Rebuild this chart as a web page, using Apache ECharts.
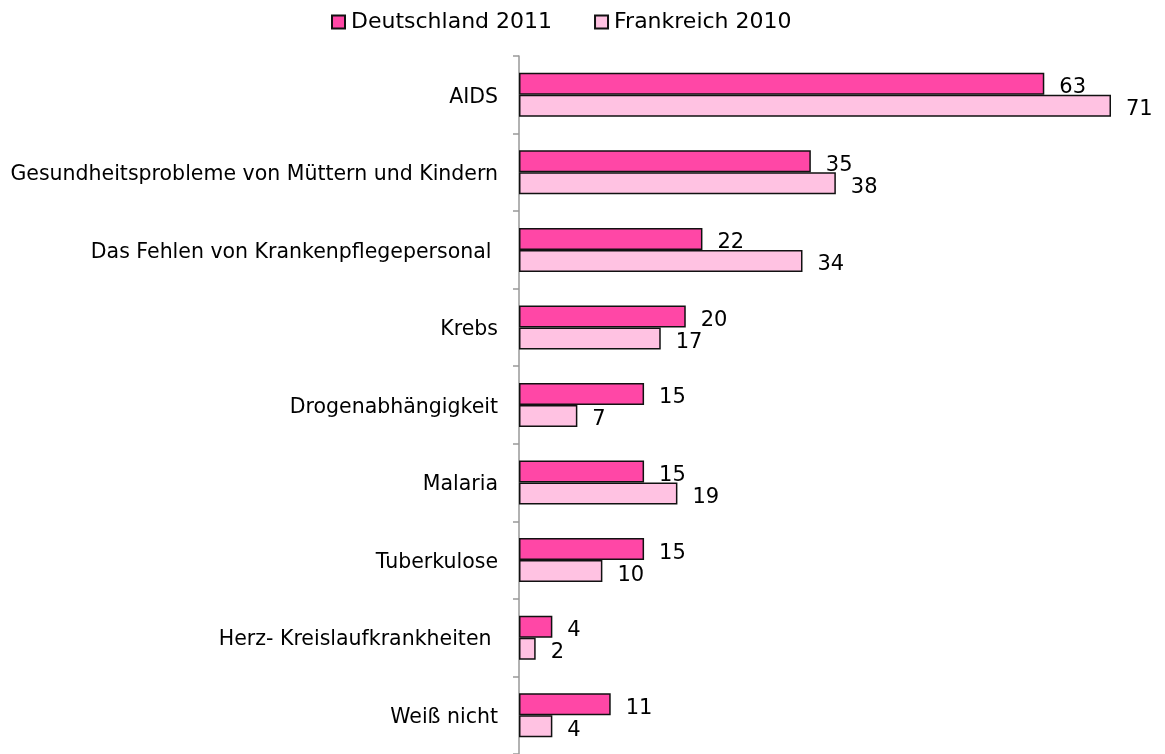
<!DOCTYPE html>
<html>
<head>
<meta charset="utf-8">
<script src="https://cdn.jsdelivr.net/npm/echarts@6/dist/echarts.min.js"></script>
<style>
  html, body { margin: 0; padding: 0; background: #fff; }
  #chart { width: 1165px; height: 754px; }
</style>
</head>
<body>
<div id="chart"></div>
<script>
// categories, top to bottom
const categories = [
  "AIDS",
  "Gesundheitsprobleme von Müttern und Kindern",
  "Das Fehlen von Krankenpflegepersonal ",
  "Krebs",
  "Drogenabhängigkeit",
  "Malaria",
  "Tuberkulose",
  "Herz- Kreislaufkrankheiten ",
  "Weiß nicht"
];
const deutschland2011 = [63, 35, 22, 20, 15, 15, 15, 4, 11];
const frankreich2010 = [71, 38, 34, 17, 7, 19, 10, 2, 4];
const seriesNames = ["Deutschland 2011", "Frankreich 2010"];

const font = "Verdana, 'DejaVu Sans', sans-serif";
const chart = echarts.init(document.getElementById("chart"));

chart.setOption({
  animation: false,
  textStyle: { fontFamily: font },
  legend: {
    top: 6,
    left: 326,
    itemWidth: 13,
    itemHeight: 13,
    itemGap: 42,
    icon: "rect",
    textStyle: { fontSize: 22, color: "#000", fontFamily: font, padding: [0, 0, 0, 1] },
    data: seriesNames
  },
  grid: {
    left: 519,
    right: 54,
    top: 56,
    height: 702
  },
  xAxis: {
    type: "value",
    min: 0,
    max: 71,
    show: false
  },
  yAxis: {
    type: "category",
    inverse: true,
    data: categories,
    axisLine: { lineStyle: { color: "#999", width: 1.5 } },
    axisTick: { show: true, length: 6, lineStyle: { color: "#999", width: 1.5 } },
    axisLabel: {
      fontSize: 20.5, color: "#000", margin: 21, fontFamily: font,
      verticalAlign: "top", lineHeight: 5
    }
  },
  series: [
    {
      name: seriesNames[0],
      type: "bar",
      data: deutschland2011,
      barWidth: 22,
      barGap: "0%",
      itemStyle: { color: "#FF47A6", borderColor: "#111", borderWidth: 1.5 },
      label: { show: true, position: "right", distance: 15, fontSize: 21, color: "#000", fontFamily: font, offset: [0, 4] }
    },
    {
      name: seriesNames[1],
      type: "bar",
      data: frankreich2010,
      barWidth: 22,
      itemStyle: { color: "#FFC2E2", borderColor: "#111", borderWidth: 1.5 },
      label: { show: true, position: "right", distance: 15, fontSize: 21, color: "#000", fontFamily: font, offset: [0, 4] }
    }
  ]
});
</script>
</body>
</html>
